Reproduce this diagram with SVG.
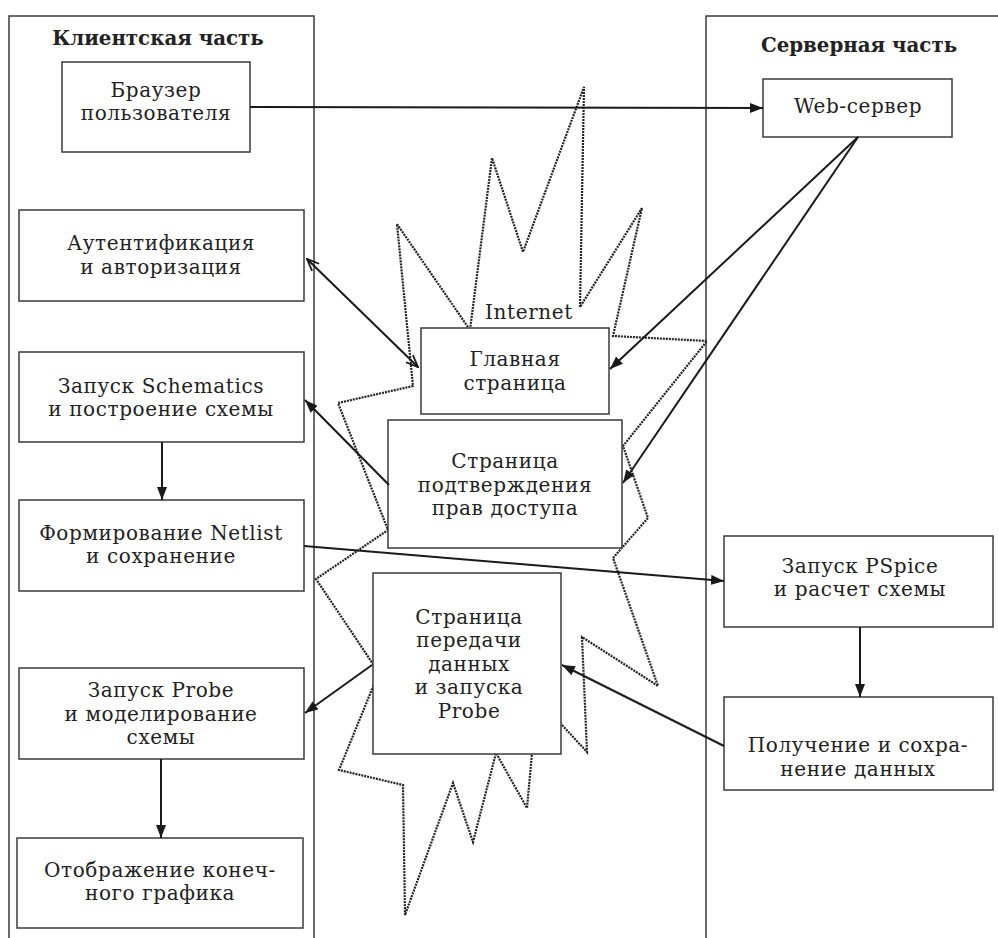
<svg xmlns="http://www.w3.org/2000/svg" width="998" height="938" viewBox="0 0 998 938">
<defs>
<style>
.box{fill:#fff;stroke:#3a3a3a;stroke-width:1.5}
.cont{fill:none;stroke:#3a3a3a;stroke-width:1.5}
.t{font-family:"DejaVu Serif","Liberation Serif",serif;font-size:20px;letter-spacing:0.6px;fill:#222;text-anchor:middle}
.h{font-family:"DejaVu Serif","Liberation Serif",serif;font-size:19.8px;font-weight:bold;fill:#222;text-anchor:middle}
.ar{fill:none;stroke:#1a1a1a;stroke-width:2}
.star{fill:none;stroke:#222;stroke-width:2.2;stroke-dasharray:2 1;stroke-linejoin:miter}
</style>
<marker id="fa" viewBox="0 0 13 10" refX="13" refY="5" markerWidth="13" markerHeight="10" markerUnits="userSpaceOnUse" orient="auto"><path d="M0,0 L13,5 L0,10 z" fill="#1a1a1a"/></marker>
<marker id="oa" viewBox="0 0 14 12" refX="13" refY="6" markerWidth="14" markerHeight="12" markerUnits="userSpaceOnUse" orient="auto-start-reverse"><path d="M1,1 L13,6 L1,11" fill="none" stroke="#1a1a1a" stroke-width="1.8"/></marker>
</defs>
<rect width="998" height="938" fill="#fff"/>

<g id="client-side">
<rect class="cont" x="9" y="16" width="305" height="940"/>
<text class="h" x="158" y="45">Клиентская часть</text>
</g>
<g id="server-side">
<rect class="cont" x="706" y="16" width="310" height="940"/>
<text class="h" x="859" y="52">Серверная часть</text>
</g>

<g id="internet">
<polygon class="star" points="397,224 470,330 492,158 523,252 584,87 580,307 642,208 613,336 707,341 623,446 648,518 613,558 658,686 582,637 587,752 537,698 527,808 496,753 473,842 453,783 405,915 403,785 339,770 377,677 373,664 316,579 388,530 338,403 413,386"/>
<text class="t" x="529" y="319">Internet</text>
</g>

<g id="browser">
<rect class="box" x="62" y="62" width="188" height="90"/>
<text class="t" x="156" y="96.5">Браузер</text>
<text class="t" x="156" y="120">пользователя</text>
</g>
<g id="auth">
<rect class="box" x="19" y="210" width="285" height="91"/>
<text class="t" x="161" y="250">Аутентификация</text>
<text class="t" x="161" y="273.5">и авторизация</text>
</g>
<g id="schematics">
<rect class="box" x="19" y="352" width="285" height="90"/>
<text class="t" x="161" y="392.5">Запуск Schematics</text>
<text class="t" x="161" y="416">и построение схемы</text>
</g>
<g id="netlist">
<rect class="box" x="19" y="500" width="285" height="91"/>
<text class="t" x="161" y="539.5">Формирование Netlist</text>
<text class="t" x="161" y="563">и сохранение</text>
</g>
<g id="probe">
<rect class="box" x="19" y="668" width="285" height="91"/>
<text class="t" x="161" y="697">Запуск Probe</text>
<text class="t" x="161" y="720.5">и моделирование</text>
<text class="t" x="161" y="744">схемы</text>
</g>
<g id="graph">
<rect class="box" x="17" y="838" width="286" height="90"/>
<text class="t" x="160" y="876.5">Отображение конеч-</text>
<text class="t" x="160" y="900">ного графика</text>
</g>

<g id="webserver">
<rect class="box" x="763" y="79" width="189" height="58"/>
<text class="t" x="858" y="113">Web-сервер</text>
</g>
<g id="pspice">
<rect class="box" x="724" y="536" width="269" height="91"/>
<text class="t" x="860" y="572.5">Запуск PSpice</text>
<text class="t" x="860" y="596">и расчет схемы</text>
</g>
<g id="data">
<rect class="box" x="724" y="697" width="269" height="93"/>
<text class="t" x="858" y="752">Получение и сохра-</text>
<text class="t" x="858" y="775.5">нение данных</text>
</g>

<g id="main-page">
<rect class="box" x="421" y="328" width="188" height="86"/>
<text class="t" x="515" y="366">Главная</text>
<text class="t" x="515" y="389.5">страница</text>
</g>
<g id="access-page">
<rect class="box" x="388" y="420" width="234" height="128"/>
<text class="t" x="505" y="468">Страница</text>
<text class="t" x="505" y="491.5">подтверждения</text>
<text class="t" x="505" y="515">прав доступа</text>
</g>
<g id="transfer-page">
<rect class="box" x="373" y="573" width="188" height="181"/>
<text class="t" x="469" y="623.5">Страница</text>
<text class="t" x="469" y="647">передачи</text>
<text class="t" x="469" y="670.5">данных</text>
<text class="t" x="469" y="694">и запуска</text>
<text class="t" x="469" y="717.5">Probe</text>
</g>

<g id="connectors">
<path class="ar" d="M250,107 L763,108" marker-end="url(#fa)"/>
<path class="ar" d="M307,259 L418,367" marker-start="url(#oa)" marker-end="url(#oa)"/>
<path class="ar" d="M858,137 L610,369" marker-end="url(#fa)"/>
<path class="ar" d="M858,137 L623,483" marker-end="url(#fa)"/>
<path class="ar" d="M389,485 L305,400" marker-end="url(#fa)"/>
<path class="ar" d="M162,442 L162,500" marker-end="url(#fa)"/>
<path class="ar" d="M304,546 L724,581" marker-end="url(#fa)"/>
<path class="ar" d="M860,627 L860,697" marker-end="url(#fa)"/>
<path class="ar" d="M724,746 L562,665" marker-end="url(#fa)"/>
<path class="ar" d="M372,665 L305,713" marker-end="url(#fa)"/>
<path class="ar" d="M161,759 L161,838" marker-end="url(#fa)"/>
</g>
</svg>
